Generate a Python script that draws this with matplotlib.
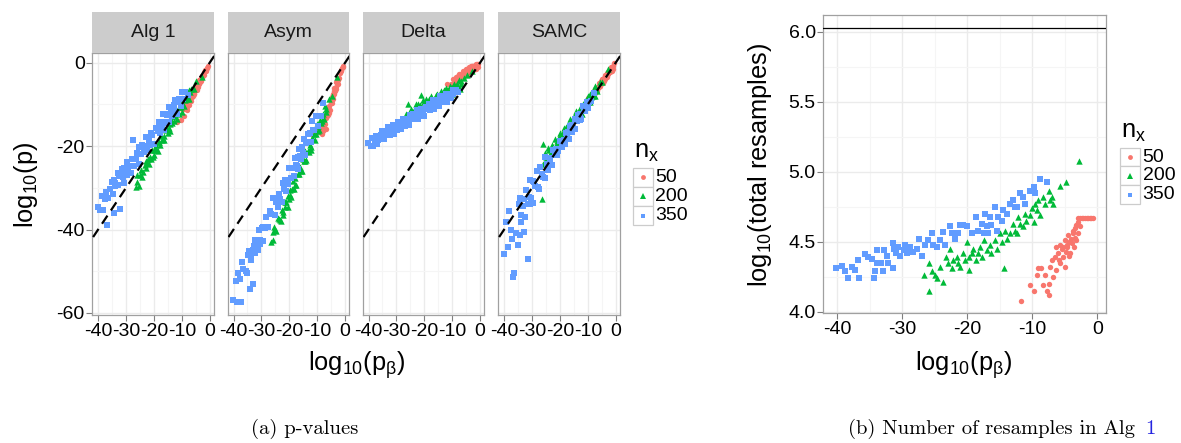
import matplotlib
matplotlib.use("Agg")
import matplotlib.pyplot as plt
from matplotlib.patches import Rectangle
from matplotlib.ticker import FormatStrFormatter

plt.rcParams['font.family'] = ['Liberation Sans', 'DejaVu Sans']
plt.rcParams['mathtext.fontset'] = 'custom'
plt.rcParams['mathtext.rm'] = 'Liberation Sans'
plt.rcParams['mathtext.it'] = 'Liberation Sans'
plt.rcParams['mathtext.default'] = 'regular'
plt.rcParams['axes.unicode_minus'] = False

# ---------------------------------------------------------------- data
methods = ["Alg 1", "Asym", "Delta", "SAMC"]
group_labels = ["50", "200", "350"]

# n_x = 50
red_x = [-11.7, -10.4, -9.8, -9.3, -9.1, -8.6, -8.3, -8.1, -7.8, -7.5,
         -7.5, -7.3, -7.0, -6.8, -6.5, -6.4, -6.0, -5.7, -5.7, -5.5,
         -5.2, -5.0, -5.0, -4.7, -4.5, -4.2, -3.9, -3.8, -3.6, -3.4,
         -3.2, -2.9, -2.9, -2.7, -2.4, -1.9, -1.4, -0.6, -6.3, -5.2,
         -4.6, -3.7, -3.2, -4.3, -2.6, -2.2, -1.6, -1.1, -0.9, -4.0,
         -3.5, -4.8, -5.9, -3.0, -4.4]
red_res = [4.08, 4.19, 4.15, 4.26, 4.31, 4.31, 4.19, 4.26, 4.15, 4.12,
           4.20, 4.32, 4.37, 4.25, 4.39, 4.30, 4.42, 4.35, 4.48, 4.45,
           4.39, 4.51, 4.32, 4.46, 4.55, 4.42, 4.49, 4.58, 4.46, 4.53,
           4.62, 4.56, 4.67, 4.61, 4.67, 4.67, 4.67, 4.67, 4.46, 4.46,
           4.48, 4.56, 4.51, 4.40, 4.67, 4.67, 4.67, 4.67, 4.67, 4.52,
           4.60, 4.43, 4.37, 4.64, 4.50]
red_alg1 = [-14.3, -13.8, -11.1, -12.9, -11.2, -10.0, -10.7, -11.3, -9.3, -8.4,
            -10.1, -9.1, -8.0, -9.3, -7.8, -8.2, -6.6, -7.5, -6.7, -7.5,
            -6.3, -5.7, -6.3, -6.5, -5.2, -5.1, -5.2, -4.2, -4.7, -4.2,
            -4.4, -3.4, -3.3, -3.6, -3.0, -2.3, -2.0, -0.7, -8.1, -6.0,
            -6.0, -4.5, -3.6, -5.8, -3.2, -2.9, -1.8, -1.3, -1.2, -4.7,
            -4.4, -5.4, -7.9, -3.7, -5.2]
red_asym = [-17.0, -16.8, -16.0, -16.5, -16.2, -16.8, -17.1, -16.5, -15.3, -14.1,
            -15.6, -14.6, -13.2, -16.0, -12.5, -12.8, -10.7, -11.4, -10.5, -11.3,
            -9.7, -8.7, -9.6, -9.7, -7.8, -7.4, -7.6, -6.0, -6.7, -5.9,
            -6.3, -4.4, -4.2, -5.0, -3.8, -2.5, -2.0, -0.7, -12.6, -9.3,
            -9.0, -6.4, -4.6, -8.7, -4.1, -3.6, -1.8, -1.3, -1.1, -6.8,
            -6.3, -8.3, -12.1, -4.9, -7.8]
red_delta = [-5.1, -5.1, -3.8, -4.9, -4.0, -3.4, -4.0, -4.4, -3.2, -2.7,
             -3.9, -3.3, -2.6, -3.7, -2.7, -3.0, -1.9, -2.9, -2.2, -3.0,
             -2.2, -1.6, -2.3, -2.8, -1.5, -1.7, -2.2, -1.0, -1.9, -1.5,
             -2.1, -0.9, -0.8, -1.7, -1.1, -0.5, -1.4, -0.4, -3.0, -1.9,
             -2.4, -1.5, -0.7, -2.5, -1.1, -1.4, -0.4, -0.3, -1.1, -1.4,
             -1.7, -1.5, -3.1, -1.2, -1.7]
red_samc = [-10.6, -9.9, -8.5, -9.1, -8.3, -7.6, -7.8, -8.1, -6.9, -6.4,
            -7.3, -6.7, -6.0, -6.7, -5.8, -6.0, -4.9, -5.5, -4.9, -5.5,
            -4.7, -4.1, -4.7, -4.9, -3.8, -3.7, -3.9, -3.0, -3.5, -3.1,
            -3.4, -2.4, -2.3, -2.8, -2.2, -1.5, -1.9, -0.1, -5.9, -4.4,
            -4.5, -3.3, -2.4, -4.4, -2.3, -2.3, -1.1, -0.8, -1.4, -3.4,
            -3.3, -3.9, -5.8, -2.6, -3.8]

# n_x = 200
green_x = [-26.6, -25.9, -25.9, -25.4, -25.0, -24.6, -23.8, -24.2, -23.2, -22.9,
           -22.7, -22.4, -22.2, -21.6, -21.4, -21.1, -20.6, -20.4, -20.0, -19.8,
           -19.7, -19.3, -19.1, -18.6, -18.3, -18.1, -17.8, -17.5, -17.0, -16.5,
           -16.3, -15.7, -15.5, -15.0, -14.7, -14.4, -14.2, -13.9, -13.4, -12.9,
           -12.7, -12.4, -12.2, -11.9, -11.4, -11.1, -10.9, -10.4, -10.1, -9.8,
           -9.6, -9.3, -9.1, -8.8, -8.3, -8.0, -7.5, -7.3, -6.9, -6.8,
           -5.8, -4.8, -2.8]
green_res = [4.26, 4.15, 4.35, 4.29, 4.26, 4.24, 4.21, 4.32, 4.39, 4.35,
             4.45, 4.31, 4.37, 4.39, 4.35, 4.32, 4.42, 4.37, 4.50, 4.39,
             4.30, 4.42, 4.45, 4.37, 4.42, 4.46, 4.39, 4.51, 4.44, 4.48,
             4.42, 4.51, 4.45, 4.56, 4.50, 4.31, 4.58, 4.52, 4.56, 4.63,
             4.58, 4.56, 4.68, 4.63, 4.61, 4.70, 4.65, 4.69, 4.74, 4.64,
             4.77, 4.73, 4.80, 4.69, 4.82, 4.77, 4.86, 4.80, 4.82, 4.77,
             4.90, 4.93, 5.08]
green_alg1 = [-29.9, -28.6, -27.0, -29.6, -26.9, -25.8, -26.1, -27.4, -24.5, -23.5,
              -25.3, -24.1, -23.0, -24.3, -22.7, -23.0, -20.9, -22.5, -20.9, -22.2,
              -20.9, -19.7, -20.6, -21.1, -18.9, -19.0, -19.7, -17.6, -18.6, -17.5,
              -18.5, -16.1, -15.6, -16.8, -15.7, -14.8, -16.4, -13.8, -14.5, -12.9,
              -14.0, -12.9, -11.8, -13.5, -11.9, -12.4, -10.6, -10.6, -11.8, -9.6,
              -10.2, -8.7, -10.3, -8.9, -8.1, -8.7, -6.5, -8.6, -7.1, -6.2,
              -6.4, -4.4, -3.5]
green_asym = [-42.9, -40.7, -42.6, -39.3, -40.2, -40.3, -37.6, -37.2, -37.7, -38.0,
              -35.4, -35.8, -36.6, -33.4, -34.7, -33.5, -34.5, -32.0, -32.8, -30.6,
              -31.8, -32.1, -30.4, -28.4, -30.2, -29.4, -27.7, -29.4, -26.8, -26.6,
              -24.9, -25.9, -25.9, -23.1, -23.5, -23.6, -21.2, -23.4, -21.1, -21.5,
              -19.7, -20.1, -20.9, -18.0, -18.4, -17.0, -18.5, -17.1, -14.8, -16.4,
              -15.2, -16.1, -13.7, -14.4, -13.9, -12.4, -13.5, -10.5, -11.0, -11.8,
              -8.7, -8.1, -3.4]
green_delta = [-12.4, -13.0, -9.8, -13.3, -11.9, -11.1, -11.9, -13.0, -10.8, -10.0,
               -11.9, -11.0, -10.0, -11.8, -10.2, -7.8, -9.0, -10.8, -9.5, -10.9,
               -9.7, -8.8, -9.9, -10.7, -8.7, -9.0, -9.9, -8.0, -9.4, -8.6,
               -9.7, -7.8, -7.5, -9.0, -8.1, -7.5, -9.2, -6.7, -7.9, -6.6,
               -7.9, -7.0, -6.0, -7.9, -6.7, -7.4, -5.7, -6.1, -7.5, -5.6,
               -6.3, -5.0, -6.7, -5.6, -5.1, -5.9, -4.1, -6.3, -5.1, -4.3,
               -3.6, -3.0, -2.0]
green_samc = [-32.6, -19.4, -24.4, -21.7, -22.6, -22.9, -21.0, -20.5, -21.4, -21.8,
              -19.7, -20.2, -20.9, -18.4, -19.7, -18.7, -19.8, -17.8, -18.7, -16.9,
              -18.0, -18.4, -17.1, -15.6, -17.3, -16.7, -15.4, -16.9, -14.9, -15.0,
              -13.6, -14.8, -14.9, -12.7, -13.2, -13.5, -11.5, -13.6, -11.8, -12.4,
              -10.9, -11.4, -12.2, -9.8, -10.4, -9.3, -10.7, -9.8, -7.9, -9.5,
              -8.5, -9.4, -7.4, -8.2, -8.0, -6.8, -8.1, -5.5, -6.2, -6.9,
              -4.7, -4.7, -1.6]

# n_x = 350
blue_x = [-40.2, -39.3, -38.8, -38.4, -37.7, -37.2, -36.6, -36.8, -35.7, -35.2,
          -34.7, -33.9, -34.2, -34.4, -33.9, -33.2, -32.9, -32.8, -32.4, -32.2,
          -31.5, -31.4, -31.2, -30.9, -30.6, -30.4, -29.8, -29.6, -29.3, -28.8,
          -28.4, -27.8, -27.5, -27.0, -26.5, -26.0, -25.5, -25.2, -24.7, -24.2,
          -23.7, -23.4, -22.7, -22.4, -21.9, -21.4, -21.1, -20.6, -20.0, -19.3,
          -18.6, -18.3, -17.8, -17.5, -17.3, -17.0, -16.8, -16.5, -16.3, -15.7,
          -15.5, -15.2, -14.7, -14.5, -13.9, -13.4, -12.9, -12.7, -12.3, -11.9,
          -11.4, -11.1, -10.4, -9.8, -9.6, -8.8, -7.8]
blue_res = [4.31, 4.33, 4.29, 4.24, 4.32, 4.30, 4.24, 4.37, 4.41, 4.39,
            4.38, 4.44, 4.29, 4.24, 4.35, 4.35, 4.29, 4.44, 4.40, 4.35,
            4.31, 4.49, 4.45, 4.42, 4.46, 4.40, 4.44, 4.48, 4.42, 4.46,
            4.43, 4.45, 4.52, 4.40, 4.48, 4.51, 4.56, 4.48, 4.46, 4.51,
            4.57, 4.48, 4.61, 4.56, 4.52, 4.56, 4.62, 4.62, 4.61, 4.56,
            4.68, 4.58, 4.63, 4.56, 4.70, 4.61, 4.56, 4.68, 4.62, 4.75,
            4.58, 4.68, 4.65, 4.73, 4.70, 4.77, 4.80, 4.75, 4.75, 4.85,
            4.82, 4.77, 4.86, 4.89, 4.85, 4.95, 4.93]
blue_alg1 = [-34.5, -35.3, -32.0, -35.4, -32.6, -31.0, -32.5, -39.0, -30.2, -28.6,
             -31.5, -29.5, -28.2, -36.0, -28.8, -29.3, -26.4, -29.4, -27.1, -35.0,
             -27.0, -25.6, -27.4, -28.9, -25.3, -25.8, -27.0, -23.8, -26.2, -24.8,
             -26.5, -23.1, -18.5, -24.8, -23.1, -21.7, -24.4, -20.2, -21.9, -19.7,
             -21.5, -19.9, -17.8, -21.0, -18.8, -19.7, -16.8, -17.3, -19.4, -15.7,
             -16.4, -14.2, -16.8, -14.8, -14.2, -15.5, -12.4, -16.1, -14.2, -12.3,
             -14.4, -12.6, -14.3, -10.6, -11.9, -12.8, -10.1, -11.5, -8.9, -12.3,
             -9.5, -8.8, -10.4, -7.0, -8.6, -7.0, -7.7]
blue_asym = [-57.0, -52.4, -57.4, -50.4, -51.9, -57.5, -49.4, -47.9, -49.9, -50.5,
             -46.0, -46.4, -54.2, -45.1, -47.2, -45.0, -53.0, -43.9, -45.6, -42.4,
             -43.7, -45.0, -42.5, -40.1, -43.4, -42.4, -39.6, -42.8, -39.4, -39.7,
             -36.9, -39.3, -39.4, -35.5, -36.3, -32.5, -32.4, -36.5, -33.3, -34.7,
             -31.5, -32.6, -33.3, -28.9, -30.3, -28.1, -30.7, -29.0, -25.2, -27.7,
             -25.2, -27.1, -22.9, -24.5, -24.7, -22.5, -25.5, -20.6, -22.3, -23.0,
             -20.2, -21.6, -18.4, -22.1, -19.3, -17.1, -18.9, -16.9, -18.9, -14.1,
             -16.1, -16.2, -12.8, -15.2, -12.9, -12.8, -9.7]
blue_delta = [-19.3, -19.9, -18.0, -20.0, -18.5, -17.6, -18.5, -19.5, -17.3, -16.4,
              -18.2, -17.1, -16.3, -18.3, -16.7, -17.0, -15.4, -17.1, -15.8, -17.3,
              -15.8, -15.0, -16.1, -17.0, -15.0, -15.3, -16.1, -14.2, -15.6, -14.9,
              -15.9, -14.0, -13.6, -15.1, -14.1, -13.4, -15.0, -12.5, -13.6, -12.4,
              -13.5, -12.6, -11.4, -13.4, -12.1, -12.7, -11.0, -11.4, -12.7, -10.6,
              -11.1, -9.8, -11.4, -10.2, -9.9, -10.7, -8.9, -11.1, -10.0, -9.0,
              -10.2, -9.2, -10.3, -8.1, -8.9, -9.5, -8.0, -8.8, -7.4, -9.4,
              -7.8, -7.4, -8.4, -6.5, -7.5, -6.6, -7.1]
blue_samc = [-45.8, -38.1, -44.3, -35.5, -40.1, -42.3, -50.4, -51.5, -40.9, -43.6,
             -33.9, -36.5, -41.2, -32.4, -38.3, -34.4, -40.5, -32.7, -36.9, -30.6,
             -33.9, -47.0, -32.2, -28.1, -34.0, -32.5, -28.3, -33.6, -28.5, -29.6,
             -26.0, -29.9, -30.2, -25.1, -26.6, -27.3, -22.6, -27.7, -24.2, -25.7,
             -22.9, -23.8, -24.5, -21.0, -22.1, -20.7, -22.2, -21.1, -18.7, -20.1,
             -18.5, -19.5, -16.9, -17.8, -17.9, -16.6, -18.3, -15.3, -16.3, -16.6,
             -14.9, -15.6, -13.6, -15.9, -14.1, -12.6, -13.7, -12.4, -13.5, -10.5,
             -11.7, -11.7, -9.5, -10.9, -9.5, -9.3, -7.2]

resample_cap = 6.024

# ---------------------------------------------------------------- style
RED, GREEN, BLUE = "#F8766D", "#00BA38", "#619CFF"
GRID_MAJ, GRID_MIN = "#EBEBEB", "#F5F5F5"
BORDER = "#A0A0A0"
TICK_FS, TITLE_FS = 14, 18.3
MARKS = [("o", RED, 15), ("^", GREEN, 21), ("s", BLUE, 15)]

W, H = 1181, 443
fig = plt.figure(figsize=(W / 100, H / 100), dpi=100)


def box(x0, y0, x1, y1):
    """Pixel box measured from the top-left corner -> figure fraction rect."""
    return [x0 / W, 1 - y1 / H, (x1 - x0) / W, (y1 - y0) / H]


def style_axes(ax, xmaj, xmin, ymaj, ymin):
    ax.set_facecolor("white")
    ax.set_xticks(xmaj)
    ax.set_xticks(xmin, minor=True)
    ax.set_yticks(ymaj)
    ax.set_yticks(ymin, minor=True)
    ax.grid(which="major", color=GRID_MAJ, lw=1.0)
    ax.grid(which="minor", color=GRID_MIN, lw=0.8)
    ax.set_axisbelow(True)
    for sp in ax.spines.values():
        sp.set_color(BORDER)
        sp.set_linewidth(0.9)
    ax.tick_params(which="major", direction="out", length=4, width=0.8,
                   color="#7F7F7F", labelsize=TICK_FS, pad=1.5)
    ax.tick_params(which="minor", length=0)


def draw_points(ax, xs, ys):
    for (m, c, s), x, y in zip(MARKS, xs, ys):
        ax.scatter(x, y, marker=m, c=c, s=s, linewidths=0, zorder=3)


def legend_block(x_left, title_y, row_y):
    fig.text(x_left / W, 1 - title_y / H, "n$_x$", fontsize=TITLE_FS,
             ha="left", va="center")
    for (m, c, s), lab, yc in zip(MARKS, group_labels, row_y):
        fig.patches.append(Rectangle(((x_left - 1) / W, 1 - (yc + 9.3) / H),
                                     19.5 / W, 18.6 / H, transform=fig.transFigure,
                                     facecolor="white", edgecolor="#CCCCCC",
                                     lw=0.9))
        fig.add_artist(plt.Line2D([(x_left + 8.7) / W], [1 - yc / H],
                                  transform=fig.transFigure, marker=m,
                                  markersize=(s * 0.8) ** 0.5, color=c, mew=0,
                                  ls=""))
        fig.text((x_left + 21.5) / W, 1 - yc / H, lab, fontsize=TICK_FS,
                 ha="left", va="center")


# ------------------------------------------------- (a) faceted p-values
facet_left = [92.3, 227.7, 362.7, 498.3]
facet_w = 121.3
strip_top, panel_top, panel_bot = 11.7, 53.3, 315.0
red_y = [red_alg1, red_asym, red_delta, red_samc]
green_y = [green_alg1, green_asym, green_delta, green_samc]
blue_y = [blue_alg1, blue_asym, blue_delta, blue_samc]

for i, name in enumerate(methods):
    L = facet_left[i]
    ax = fig.add_axes(box(L, panel_top, L + facet_w, panel_bot))
    style_axes(ax, [-40, -30, -20, -10, 0], [-35, -25, -15, -5],
               [-60, -40, -20, 0], [-50, -30, -10])
    ax.set_xlim(-42.1, 1.4)
    ax.set_ylim(-60.5, 2.25)
    draw_points(ax, [red_x, green_x, blue_x], [red_y[i], green_y[i], blue_y[i]])
    ax.plot([-45, 5], [-45, 5], color="black", lw=1.6, ls=(0, (4.4, 2.8)),
            zorder=4)
    if i > 0:
        ax.tick_params(axis="y", labelleft=False, length=0)

    sax = fig.add_axes(box(L, strip_top, L + facet_w, panel_top))
    sax.set_facecolor("#CCCCCC")
    sax.set_xticks([])
    sax.set_yticks([])
    for sp in sax.spines.values():
        sp.set_visible(False)
    sax.text(0.5, 0.5, name, fontsize=TICK_FS, ha="center", va="center",
             transform=sax.transAxes, color="#1A1A1A")

fig.text(26 / W, 1 - 185 / H, "log$_{10}$(p)", fontsize=TITLE_FS,
         rotation=90, ha="center", va="center")
fig.text(357 / W, 1 - 365 / H, "log$_{10}$(p$_β$)", fontsize=TITLE_FS,
         ha="center", va="center")
legend_block(634, 152, [177.5, 196.5, 215.5])

# ------------------------------------------ (b) resamples used by Alg 1
axb = fig.add_axes(box(823.3, 15.0, 1106.0, 313.3))
style_axes(axb, [-40, -30, -20, -10, 0], [-35, -25, -15, -5],
           [4.0, 4.5, 5.0, 5.5, 6.0], [4.25, 4.75, 5.25, 5.75])
axb.set_xlim(-42.15, 1.34)
axb.set_ylim(3.989, 6.119)
axb.yaxis.set_major_formatter(FormatStrFormatter("%.1f"))
draw_points(axb, [red_x, green_x, blue_x], [red_res, green_res, blue_res])
axb.axhline(resample_cap, color="black", lw=0.9, zorder=4)

fig.text(760 / W, 1 - 165 / H, "log$_{10}$(total resamples)", fontsize=TITLE_FS,
         rotation=90, ha="center", va="center")
fig.text(964 / W, 1 - 365 / H, "log$_{10}$(p$_β$)", fontsize=TITLE_FS,
         ha="center", va="center")
legend_block(1121, 132, [157.0, 175.7, 194.5])

# ---------------------------------------------------------------- captions
cap_font = dict(family=["cmr10", "DejaVu Serif"], fontsize=14.8)
fig.text(305 / W, 1 - 429 / H, "(a) p-values", ha="center", va="center",
         **cap_font)
cap_b = fig.text(848 / W, 1 - 429 / H, "(b) Number of resamples in Alg ",
                 ha="left", va="center", **cap_font)
fig.canvas.draw()
ext = cap_b.get_window_extent(renderer=fig.canvas.get_renderer())
fig.text(ext.x1 / W + 3 / W, 1 - 429 / H, "1", ha="left", va="center",
         color="#2525E0", **cap_font)

fig.savefig("out.png", dpi=100)
